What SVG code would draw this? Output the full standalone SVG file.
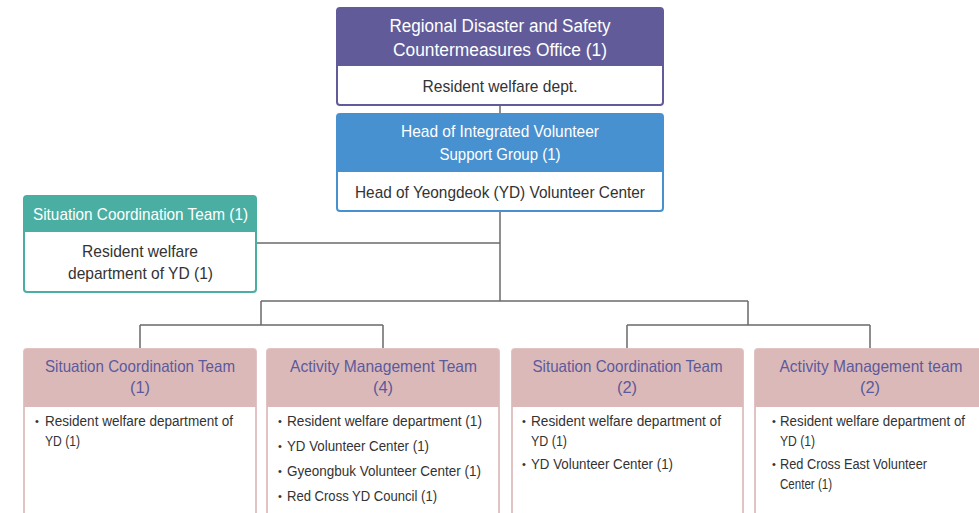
<svg xmlns="http://www.w3.org/2000/svg" width="979" height="513" viewBox="0 0 979 513">
  <style>
    text { font-family: "Liberation Sans", Arial, sans-serif; }
    .fit { }
    .hw { fill: #ffffff; font-size: 18px; text-anchor: middle; }
    .hw2 { fill: #ffffff; font-size: 17px; text-anchor: middle; }
    .body { fill: #333333; font-size: 17px; text-anchor: middle; }
    .ph { fill: #5b5a9c; font-size: 16.5px; text-anchor: middle; }
    .item { fill: #333333; font-size: 15.5px; }
    .dot { fill: #333333; font-size: 11px; }
    .conn { fill: none; stroke: #6a6a6a; stroke-width: 1.5; }
  </style>

  <!-- connectors -->
  <g id="connectors">
    <path class="conn" d="M500,105 V114"/>
    <path class="conn" d="M500,211 V301"/>
    <path class="conn" d="M256,243 H500"/>
    <path class="conn" d="M261,301 H748"/>
    <path class="conn" d="M261,301 V325 M748,301 V325"/>
    <path class="conn" d="M140,325 H383 M627,325 H870"/>
    <path class="conn" d="M140,325 V349 M383,325 V349 M627,325 V349 M870,325 V349"/>
  </g>

  <!-- top office -->
  <g id="office">
    <rect x="337" y="8" width="326" height="97" rx="3" fill="#ffffff" stroke="#615c99" stroke-width="2"/>
    <path d="M340,8 H660 a3,3 0 0 1 3,3 V66 H337 V11 a3,3 0 0 1 3,-3 Z" fill="#615c99"/>
    <text class="hw" x="500" y="32" textLength="221" lengthAdjust="spacingAndGlyphs">Regional Disaster and Safety</text>
    <text class="hw" x="500" y="56" textLength="214" lengthAdjust="spacingAndGlyphs">Countermeasures Office (1)</text>
    <text class="body" x="500" y="92" textLength="155" lengthAdjust="spacingAndGlyphs">Resident welfare dept.</text>
  </g>

  <!-- integrated volunteer support group -->
  <g id="support-group">
    <rect x="337" y="114" width="326" height="97" rx="3" fill="#ffffff" stroke="#4791d1" stroke-width="2"/>
    <path d="M340,114 H660 a3,3 0 0 1 3,3 V172 H337 V117 a3,3 0 0 1 3,-3 Z" fill="#4791d1"/>
    <text class="hw2" x="500" y="137" textLength="198" lengthAdjust="spacingAndGlyphs">Head of Integrated Volunteer</text>
    <text class="hw2" x="500" y="160" textLength="121" lengthAdjust="spacingAndGlyphs">Support Group (1)</text>
    <text class="body" x="500" y="198" textLength="290" lengthAdjust="spacingAndGlyphs">Head of Yeongdeok (YD) Volunteer Center</text>
  </g>

  <!-- situation coordination team (side) -->
  <g id="side-team">
    <rect x="24" y="196" width="232" height="96" rx="3" fill="#ffffff" stroke="#4aaea2" stroke-width="2"/>
    <path d="M27,196 H253 a3,3 0 0 1 3,3 V232 H24 V199 a3,3 0 0 1 3,-3 Z" fill="#4aaea2"/>
    <text class="hw2" x="140.5" y="220" textLength="215" lengthAdjust="spacingAndGlyphs">Situation Coordination Team (1)</text>
    <text class="body" x="140" y="257" textLength="116" lengthAdjust="spacingAndGlyphs">Resident welfare</text>
    <text class="body" x="140.5" y="279" textLength="145" lengthAdjust="spacingAndGlyphs">department of YD (1)</text>
  </g>

  <!-- bottom team 1 -->
  <g id="team-situation-1">
    <rect x="24" y="349" width="232" height="180" rx="3" fill="#ffffff" stroke="#e2c3c3" stroke-width="2"/>
    <path d="M27,349 H253 a3,3 0 0 1 3,3 V407 H24 V352 a3,3 0 0 1 3,-3 Z" fill="#dcb9b9"/>
    <text class="ph" x="140" y="372" textLength="190" lengthAdjust="spacingAndGlyphs">Situation Coordination Team</text>
    <text class="ph" x="140" y="393">(1)</text>
    <text class="dot" x="35" y="425">•</text>
    <text class="item" x="45" y="426" textLength="188" lengthAdjust="spacingAndGlyphs">Resident welfare department of</text>
    <text class="item" x="45" y="446" textLength="35" lengthAdjust="spacingAndGlyphs">YD (1)</text>
  </g>

  <!-- bottom team 2 -->
  <g id="team-activity-4">
    <rect x="267" y="349" width="232" height="180" rx="3" fill="#ffffff" stroke="#e2c3c3" stroke-width="2"/>
    <path d="M270,349 H496 a3,3 0 0 1 3,3 V407 H267 V352 a3,3 0 0 1 3,-3 Z" fill="#dcb9b9"/>
    <text class="ph" x="383.5" y="372" textLength="187" lengthAdjust="spacingAndGlyphs">Activity Management Team</text>
    <text class="ph" x="383" y="393">(4)</text>
    <text class="dot" x="278" y="425">•</text>
    <text class="item" x="287" y="426" textLength="195" lengthAdjust="spacingAndGlyphs">Resident welfare department (1)</text>
    <text class="dot" x="278" y="450">•</text>
    <text class="item" x="287" y="451" textLength="142" lengthAdjust="spacingAndGlyphs">YD Volunteer Center (1)</text>
    <text class="dot" x="278" y="475">•</text>
    <text class="item" x="287" y="476" textLength="194" lengthAdjust="spacingAndGlyphs">Gyeongbuk Volunteer Center (1)</text>
    <text class="dot" x="278" y="500">•</text>
    <text class="item" x="287" y="501" textLength="150" lengthAdjust="spacingAndGlyphs">Red Cross YD Council (1)</text>
  </g>

  <!-- bottom team 3 -->
  <g id="team-situation-2">
    <rect x="512" y="349" width="231" height="180" rx="3" fill="#ffffff" stroke="#e2c3c3" stroke-width="2"/>
    <path d="M515,349 H740 a3,3 0 0 1 3,3 V407 H512 V352 a3,3 0 0 1 3,-3 Z" fill="#dcb9b9"/>
    <text class="ph" x="627.5" y="372" textLength="190" lengthAdjust="spacingAndGlyphs">Situation Coordination Team</text>
    <text class="ph" x="627" y="393">(2)</text>
    <text class="dot" x="522" y="425">•</text>
    <text class="item" x="531" y="426" textLength="190" lengthAdjust="spacingAndGlyphs">Resident welfare department of</text>
    <text class="item" x="531" y="446" textLength="36" lengthAdjust="spacingAndGlyphs">YD (1)</text>
    <text class="dot" x="522" y="468">•</text>
    <text class="item" x="531" y="469" textLength="142" lengthAdjust="spacingAndGlyphs">YD Volunteer Center (1)</text>
  </g>

  <!-- bottom team 4 -->
  <g id="team-activity-2">
    <rect x="755" y="349" width="232" height="180" rx="3" fill="#ffffff" stroke="#e2c3c3" stroke-width="2"/>
    <path d="M758,349 H984 a3,3 0 0 1 3,3 V407 H755 V352 a3,3 0 0 1 3,-3 Z" fill="#dcb9b9"/>
    <text class="ph" x="871" y="372" textLength="183" lengthAdjust="spacingAndGlyphs">Activity Management team</text>
    <text class="ph" x="870" y="393">(2)</text>
    <text class="dot" x="772" y="425">•</text>
    <text class="item" x="780" y="426" textLength="185" lengthAdjust="spacingAndGlyphs">Resident welfare department of</text>
    <text class="item" x="780" y="446" textLength="35" lengthAdjust="spacingAndGlyphs">YD (1)</text>
    <text class="dot" x="772" y="468">•</text>
    <text class="item" x="780" y="469" textLength="147" lengthAdjust="spacingAndGlyphs">Red Cross East Volunteer</text>
    <text class="item" x="780" y="489" textLength="52" lengthAdjust="spacingAndGlyphs">Center (1)</text>
  </g>
</svg>
